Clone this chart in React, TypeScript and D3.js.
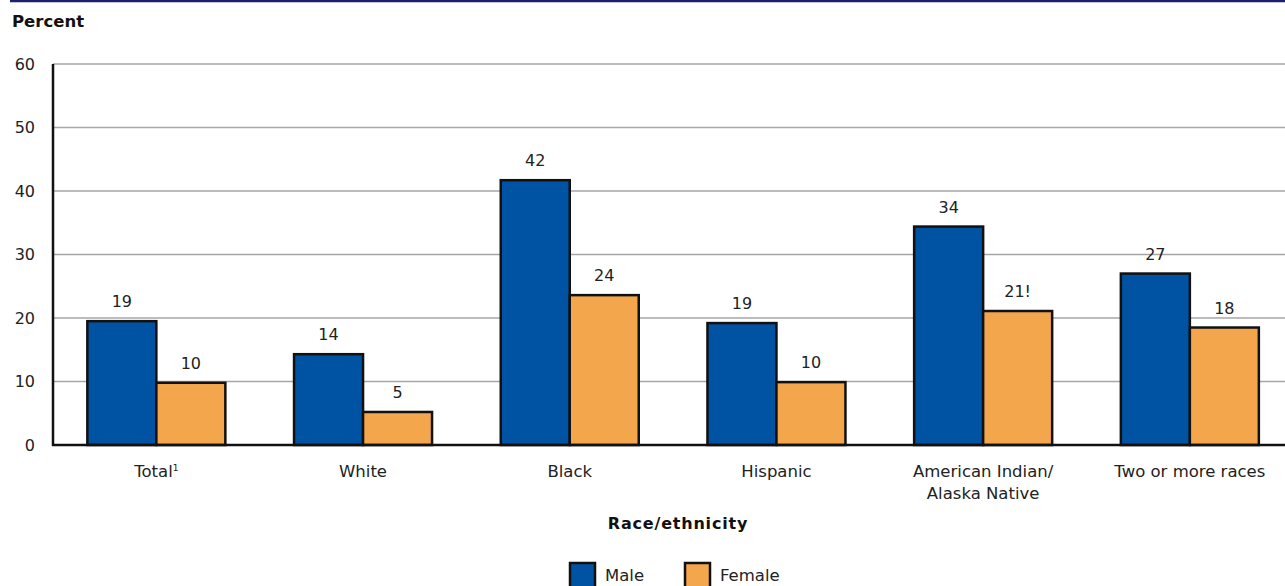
import React from "react";
import * as d3 from "d3";

const categories = ["Total", "White", "Black", "Hispanic", "American Indian/\nAlaska Native", "Two or more races"];
const maleValues = [19.5, 14.3, 41.7, 19.2, 34.4, 27.0];
const femaleValues = [9.8, 5.2, 23.6, 9.9, 21.1, 18.5];
const maleLabels = ["19", "14", "42", "19", "34", "27"];
const femaleLabels = ["10", "5", "24", "10", "21!", "18"];
const yTicks = [0, 10, 20, 30, 40, 50, 60];
const seriesNames = ["Male", "Female"];

const W = 1285, H = 586;
const FONT = "'DejaVu Sans', sans-serif";
const BLUE = "#0053A2";
const ORANGE = "#F4A64C";

export default function App() {
  const x = d3.scaleBand<string>().domain(categories).range([53, 53 + 6 * 206.7]).padding(0);
  const y = d3.scaleLinear().domain([0, 60]).range([445, 64]);
  const barW = 69;
  return (
    <svg width={W} height={H} style={{ position: "absolute", left: 0, top: 0, background: "#fff" }} fontFamily={FONT}>
      <line x1={10} x2={W} y1={1} y2={1} stroke="#1e1f6e" strokeWidth={2.5} />
      <text x={12} y={27} fontSize={16.5} fontWeight="bold" fill="#111">Percent</text>
      {yTicks.map((t) => (
        <g key={t}>
          {t > 0 && <line x1={53} x2={W} y1={y(t)} y2={y(t)} stroke="#a6a6a6" strokeWidth={1.5} />}
          <text x={35} y={y(t)} dy="0.35em" textAnchor="end" fontSize={16} fill="#222">{t}</text>
        </g>
      ))}
      {categories.map((c, i) => {
        const cx = (x(c) as number) + x.bandwidth() / 2;
        const m = maleValues[i], f = femaleValues[i];
        const lines = c.split("\n");
        return (
          <g key={c}>
            <rect x={cx - barW} y={y(m)} width={barW} height={y(0) - y(m)} fill={BLUE} stroke="#111" strokeWidth={2.5} />
            <rect x={cx} y={y(f)} width={barW} height={y(0) - y(f)} fill={ORANGE} stroke="#111" strokeWidth={2.5} />
            <text x={cx - barW / 2} y={y(m) - 14} textAnchor="middle" fontSize={16} fill="#222">{maleLabels[i]}</text>
            <text x={cx + barW / 2} y={y(f) - 14} textAnchor="middle" fontSize={16} fill="#222">{femaleLabels[i]}</text>
            <text x={cx} y={477} textAnchor="middle" fontSize={16.5} fill="#222">
              {lines.map((l, k) => (
                <tspan key={k} x={cx} dy={k === 0 ? 0 : 22}>
                  {i === 0 ? <>{l}<tspan fontSize={9} dy={-6}>1</tspan></> : l}
                </tspan>
              ))}
            </text>
          </g>
        );
      })}
      <line x1={53} x2={53} y1={64} y2={446} stroke="#111" strokeWidth={2.5} />
      <line x1={52} x2={W} y1={445} y2={445} stroke="#111" strokeWidth={2.5} />
      <text x={678} y={529} textAnchor="middle" fontSize={16} fontWeight="bold" fill="#111" letterSpacing={0.8}>Race/ethnicity</text>
      {seriesNames.map((s, i) => {
        const lx = i === 0 ? 570 : 685;
        return (
          <g key={s}>
            <rect x={lx} y={563} width={25} height={26} fill={i === 0 ? BLUE : ORANGE} stroke="#111" strokeWidth={2.5} />
            <text x={lx + 35} y={581} fontSize={16.5} fill="#222">{s}</text>
          </g>
        );
      })}
    </svg>
  );
}
